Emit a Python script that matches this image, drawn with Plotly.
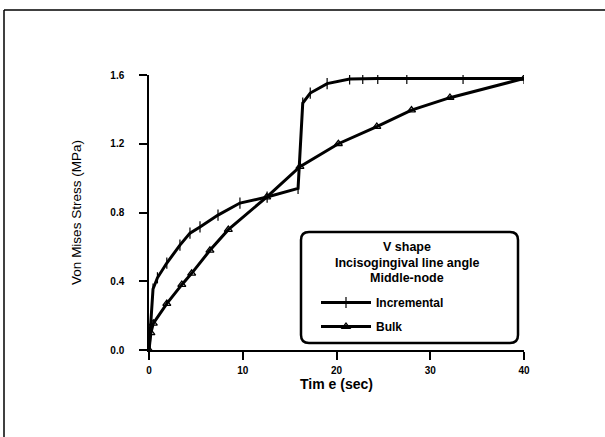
import plotly.graph_objects as go

inc_t = [0, 0.43, 0.9, 1.9, 3.3, 4.37, 5.44, 7.36, 9.7, 12.6, 15.9, 16.4, 17.2, 19.0, 21.4, 22.8, 24.4, 27.5, 33.5, 40]
inc_v = [0, 0.355, 0.42, 0.506, 0.61, 0.68, 0.716, 0.785, 0.855, 0.89, 0.94, 1.437, 1.495, 1.55, 1.577, 1.58, 1.58, 1.58, 1.58, 1.58]

bulk_t = [0, 0.2, 0.46, 1.9, 3.5, 4.55, 6.5, 8.46, 12.55, 16.1, 20.2, 24.3, 28.0, 32.1, 40]
bulk_v = [0, 0.1, 0.155, 0.27, 0.38, 0.446, 0.58, 0.70, 0.89, 1.067, 1.2, 1.30, 1.396, 1.468, 1.58]

x_ticks = [0, 10, 20, 30, 40]
y_ticks = [0, 0.4, 0.8, 1.2, 1.6]
y_tick_text = ["0.0", "0.4", "0.8", "1.2", "1.6"]
legend_title_lines = ["V shape", "Incisogingival line angle", "Middle-node"]

FONT = "Liberation Sans"

fig = go.Figure()
fig.add_trace(go.Scatter(
    x=inc_t, y=inc_v, mode="lines+markers", name="Incremental", legendgroup="a",
    line=dict(color="black", width=3),
    marker=dict(symbol="line-ns", size=8, line=dict(color="black", width=1.2)),
))
fig.add_trace(go.Scatter(
    x=bulk_t, y=bulk_v, mode="lines+markers", name="Bulk", legendgroup="b",
    line=dict(color="black", width=3),
    marker=dict(symbol="triangle-up-open", size=7, color="black", line=dict(color="black", width=1.3)),
))

W, H = 605, 437
L, R, T, B = 149, 81, 75, 87
pw, ph = W - L - R, H - T - B

def px(x):
    return (x - L) / pw

def py(y):
    return (H - B - y) / ph

shapes = [
    dict(type="line", xref="paper", yref="paper", x0=px(4), x1=px(605), y0=py(10), y1=py(10),
         line=dict(color="black", width=1.5)),
    dict(type="line", xref="paper", yref="paper", x0=px(4), x1=px(4), y0=py(10), y1=py(437),
         line=dict(color="black", width=1.5)),
]
x0, x1, y0, y1 = px(301), px(518), py(343), py(232)
rx = 8 / pw
ry = 8 / ph
path = (f"M {x0+rx},{y1} L {x1-rx},{y1} Q {x1},{y1} {x1},{y1-ry} "
        f"L {x1},{y0+ry} Q {x1},{y0} {x1-rx},{y0} L {x0+rx},{y0} "
        f"Q {x0},{y0} {x0},{y0+ry} L {x0},{y1-ry} Q {x0},{y1} {x0+rx},{y1} Z")
shapes.append(dict(type="path", xref="paper", yref="paper", path=path,
                   line=dict(color="black", width=2.5), fillcolor="white", layer="below"))

annotations = []
for i, line in enumerate(legend_title_lines):
    annotations.append(dict(
        text=line, xref="paper", yref="paper", x=px(407), y=py(247 + 15.5 * i),
        xanchor="center", yanchor="middle", showarrow=False,
        font=dict(family=FONT, size=12.5, color="black", weight="bold"),
    ))

fig.update_layout(
    width=W, height=H,
    margin=dict(l=L, r=R, t=T, b=B),
    paper_bgcolor="white", plot_bgcolor="white",
    font=dict(family=FONT, color="black"),
    shapes=shapes,
    annotations=annotations,
    showlegend=True,
    legend=dict(
        x=px(316), y=py(288), xanchor="left", yanchor="top",
        bgcolor="rgba(0,0,0,0)", borderwidth=0,
        font=dict(family=FONT, size=12, color="black", weight="bold"),
        tracegroupgap=5, itemwidth=50,
    ),
    xaxis=dict(
        range=[0, 40], tickvals=x_ticks, ticktext=[str(v) for v in x_ticks],
        showgrid=False, zeroline=False, showline=True, linecolor="black", linewidth=1.5,
        ticks="outside", ticklen=8, tickwidth=1.5, tickcolor="black",
        tickfont=dict(family=FONT, size=10, weight="bold"), ticklabelstandoff=2,
        title=dict(text="Tim e (sec)", font=dict(family=FONT, size=14, weight="bold"), standoff=3),
    ),
    yaxis=dict(
        range=[0, 1.6], tickvals=y_ticks, ticktext=y_tick_text,
        showgrid=False, zeroline=False, showline=True, linecolor="black", linewidth=1.5,
        ticks="outside", ticklen=8, tickwidth=1.5, tickcolor="black",
        tickfont=dict(family=FONT, size=10, weight="bold"), ticklabelstandoff=13,
        title=dict(text="Von Mises Stress (MPa)", font=dict(family=FONT, size=13.5), standoff=26),
    ),
)

fig.write_html("out.html")
